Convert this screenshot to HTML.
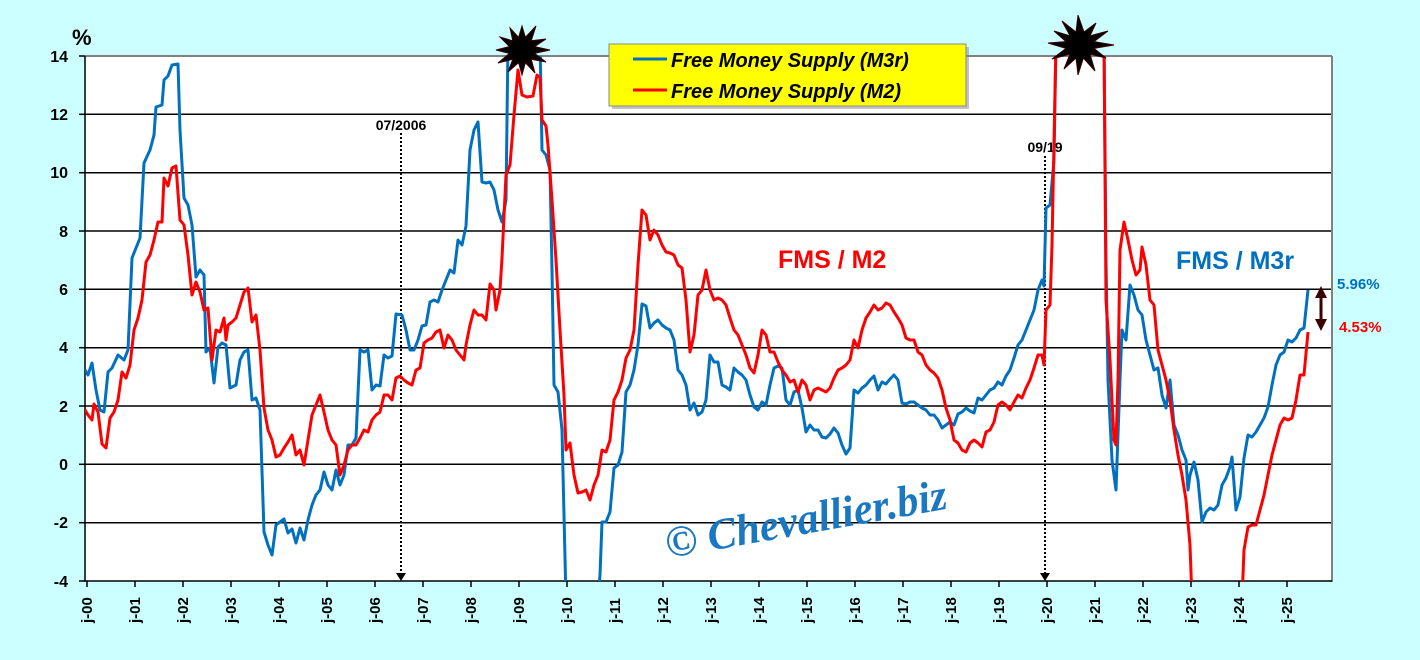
<!DOCTYPE html>
<html><head><meta charset="utf-8"><style>
html,body{margin:0;padding:0;background:#ccffff;}
svg{display:block}
text{font-family:"Liberation Sans",Arial,sans-serif;font-weight:bold}
text.wm{font-family:"Liberation Serif",serif;font-style:italic;font-weight:bold}
</style></head><body>
<svg width="1420" height="660" viewBox="0 0 1420 660" xmlns="http://www.w3.org/2000/svg">
<rect width="1420" height="660" fill="#ccffff"/>
<rect x="85" y="56" width="1247" height="525" fill="#fff"/>
<g stroke="#000" stroke-width="1.5">
<line x1="85" y1="114.3" x2="1332" y2="114.3"/>
<line x1="85" y1="172.7" x2="1332" y2="172.7"/>
<line x1="85" y1="231" x2="1332" y2="231"/>
<line x1="85" y1="289.3" x2="1332" y2="289.3"/>
<line x1="85" y1="347.7" x2="1332" y2="347.7"/>
<line x1="85" y1="406" x2="1332" y2="406"/>
<line x1="85" y1="464.3" x2="1332" y2="464.3"/>
<line x1="85" y1="522.7" x2="1332" y2="522.7"/>
</g>
<line x1="85" y1="56" x2="1332" y2="56" stroke="#808080" stroke-width="2"/>
<line x1="1332" y1="56" x2="1332" y2="582" stroke="#808080" stroke-width="2"/>
<line x1="84" y1="581" x2="1332" y2="581" stroke="#000" stroke-width="1.5"/>
<line x1="85" y1="56" x2="85" y2="581" stroke="#000" stroke-width="1.5"/>
<g stroke="#000" stroke-width="1.5">
<line x1="79" y1="56" x2="85" y2="56"/><line x1="79" y1="114.3" x2="85" y2="114.3"/><line x1="79" y1="172.7" x2="85" y2="172.7"/><line x1="79" y1="231" x2="85" y2="231"/><line x1="79" y1="289.3" x2="85" y2="289.3"/><line x1="79" y1="347.7" x2="85" y2="347.7"/><line x1="79" y1="406" x2="85" y2="406"/><line x1="79" y1="464.3" x2="85" y2="464.3"/><line x1="79" y1="522.7" x2="85" y2="522.7"/><line x1="79" y1="581" x2="85" y2="581"/>
</g>
<g font-size="16" text-anchor="end" fill="#000">
<text x="68" y="62">14</text><text x="68" y="120">12</text><text x="68" y="178">10</text><text x="68" y="237">8</text><text x="68" y="295">6</text><text x="68" y="353">4</text><text x="68" y="412">2</text><text x="68" y="470">0</text><text x="68" y="528">-2</text><text x="68" y="587">-4</text>
</g>
<text x="72" y="45" font-size="22">%</text>
<g font-size="15" fill="#000">
<g stroke="#000" stroke-width="1.5">
<line x1="87" y1="581" x2="87" y2="587"/><line x1="135" y1="581" x2="135" y2="587"/><line x1="183" y1="581" x2="183" y2="587"/><line x1="231" y1="581" x2="231" y2="587"/><line x1="279" y1="581" x2="279" y2="587"/><line x1="327" y1="581" x2="327" y2="587"/><line x1="375" y1="581" x2="375" y2="587"/><line x1="423" y1="581" x2="423" y2="587"/><line x1="471" y1="581" x2="471" y2="587"/><line x1="519" y1="581" x2="519" y2="587"/><line x1="567" y1="581" x2="567" y2="587"/><line x1="615" y1="581" x2="615" y2="587"/><line x1="663" y1="581" x2="663" y2="587"/><line x1="711" y1="581" x2="711" y2="587"/><line x1="759" y1="581" x2="759" y2="587"/><line x1="807" y1="581" x2="807" y2="587"/><line x1="855" y1="581" x2="855" y2="587"/><line x1="903" y1="581" x2="903" y2="587"/><line x1="951" y1="581" x2="951" y2="587"/><line x1="999" y1="581" x2="999" y2="587"/><line x1="1047" y1="581" x2="1047" y2="587"/><line x1="1095" y1="581" x2="1095" y2="587"/><line x1="1143" y1="581" x2="1143" y2="587"/><line x1="1191" y1="581" x2="1191" y2="587"/><line x1="1239" y1="581" x2="1239" y2="587"/><line x1="1287" y1="581" x2="1287" y2="587"/>
</g>
<text transform="translate(92,623) rotate(-90)">j-00</text>
<text transform="translate(140,623) rotate(-90)">j-01</text>
<text transform="translate(188,623) rotate(-90)">j-02</text>
<text transform="translate(236,623) rotate(-90)">j-03</text>
<text transform="translate(284,623) rotate(-90)">j-04</text>
<text transform="translate(332,623) rotate(-90)">j-05</text>
<text transform="translate(380,623) rotate(-90)">j-06</text>
<text transform="translate(428,623) rotate(-90)">j-07</text>
<text transform="translate(476,623) rotate(-90)">j-08</text>
<text transform="translate(524,623) rotate(-90)">j-09</text>
<text transform="translate(572,623) rotate(-90)">j-10</text>
<text transform="translate(620,623) rotate(-90)">j-11</text>
<text transform="translate(668,623) rotate(-90)">j-12</text>
<text transform="translate(716,623) rotate(-90)">j-13</text>
<text transform="translate(764,623) rotate(-90)">j-14</text>
<text transform="translate(812,623) rotate(-90)">j-15</text>
<text transform="translate(860,623) rotate(-90)">j-16</text>
<text transform="translate(908,623) rotate(-90)">j-17</text>
<text transform="translate(956,623) rotate(-90)">j-18</text>
<text transform="translate(1004,623) rotate(-90)">j-19</text>
<text transform="translate(1052,623) rotate(-90)">j-20</text>
<text transform="translate(1100,623) rotate(-90)">j-21</text>
<text transform="translate(1148,623) rotate(-90)">j-22</text>
<text transform="translate(1196,623) rotate(-90)">j-23</text>
<text transform="translate(1244,623) rotate(-90)">j-24</text>
<text transform="translate(1292,623) rotate(-90)">j-25</text>
</g>
<!-- watermark -->
<text class="wm" x="668" y="558" font-size="44" fill="#1a78c2" transform="rotate(-10 668 558)" textLength="285" lengthAdjust="spacingAndGlyphs">© Chevallier.biz</text>
<!-- dotted markers -->
<line x1="401" y1="133" x2="401" y2="574" stroke="#000" stroke-width="2" stroke-dasharray="2,2"/>
<polygon points="396,573 406,573 401,581" fill="#000"/>
<text x="401" y="130" font-size="14" text-anchor="middle">07/2006</text>
<line x1="1045" y1="156" x2="1045" y2="574" stroke="#000" stroke-width="2" stroke-dasharray="2,2"/>
<polygon points="1040,573 1050,573 1045,581" fill="#000"/>
<text x="1045" y="152" font-size="14" text-anchor="middle">09/19</text>
<defs><clipPath id="c"><rect x="85" y="56" width="1247" height="525"/></clipPath></defs>
<g clip-path="url(#c)" fill="none" stroke-width="3" stroke-linejoin="round">
<polyline stroke="#0070c0" points="85,370 88,375 92,363 96,390 100,410 104,412 108,372 112,368 118,355 124,360 128,350 132,258 140,238 144,163 150,150 154,135 156,107 162,105 164,80 168,76 172,65 178,64 180,130 184,198 188,205 192,225 196,277 200,270 204,275 206,352 210,348 214,383 218,347 222,343 226,345 230,388 236,385 240,360 244,352 248,350 252,400 256,398 260,410 264,532 268,545 272,555 276,525 280,522 284,519 288,533 292,529 296,543 300,528 304,540 308,520 312,505 316,495 320,490 324,472 328,485 332,490 336,470 340,485 344,475 348,445 352,445 356,438 360,350 364,352 368,350 372,390 376,385 380,386 384,355 388,358 392,356 396,314 402,315 406,330 410,350 414,350 418,340 422,326 426,325 430,302 434,300 438,302 442,290 446,280 450,270 454,273 458,240 462,245 466,226 470,150 474,130 478,122 482,182 486,183 490,182 494,190 498,210 502,222 506,200 508,40 540,40 542,150 546,155 550,170 552,270 554,385 558,392 562,430 566,600 598,600 600,575 602,522 606,522 610,512 614,468 618,465 622,452 626,392 630,385 634,370 638,345 642,304 646,306 650,328 654,323 658,320 662,325 666,328 670,330 674,340 678,370 682,375 686,385 690,410 694,403 698,415 702,412 706,400 710,355 714,362 718,362 722,385 726,387 730,390 734,368 738,372 742,375 746,380 750,395 754,407 758,410 762,402 766,405 770,385 774,368 778,366 782,368 786,400 790,405 794,392 798,390 802,408 806,432 810,425 814,430 818,430 822,437 826,438 830,434 834,428 838,433 842,445 846,454 850,448 854,390 858,393 862,388 866,385 870,380 874,376 878,390 882,382 886,384 890,379 894,375 898,380 902,403 906,404 910,402 914,402 918,405 922,408 926,410 930,415 934,415 938,420 942,428 946,425 950,422 954,425 958,414 962,412 966,408 970,411 974,413 978,398 982,400 986,395 990,390 994,388 998,382 1002,385 1006,376 1010,370 1014,358 1018,345 1022,340 1026,330 1030,320 1034,310 1038,290 1042,280 1044,286 1046,208 1050,205 1054,160 1056,40 1104,40 1106,260 1108,380 1112,460 1116,490 1120,380 1122,330 1126,340 1130,285 1134,295 1138,310 1142,315 1146,340 1150,355 1154,370 1158,368 1162,395 1166,408 1170,380 1174,425 1178,435 1182,450 1186,460 1188,490 1190,475 1194,462 1198,480 1202,522 1206,512 1210,508 1214,510 1218,505 1222,485 1226,478 1230,467 1232,457 1236,510 1240,497 1244,458 1248,435 1252,437 1256,432 1260,425 1264,418 1268,407 1272,385 1276,365 1280,355 1284,352 1288,340 1292,342 1296,338 1300,330 1304,328 1308,290"/>
<polyline stroke="#ff0000" points="85,410 88,415 92,420 94,404 98,412 102,444 106,448 110,418 114,412 118,400 122,372 126,378 130,365 134,330 138,318 142,300 146,262 150,255 154,240 158,222 162,222 164,178 168,186 172,168 176,166 180,220 184,225 188,255 192,295 196,282 200,292 204,310 208,308 212,360 216,330 220,332 224,318 226,340 228,325 232,322 236,318 240,305 244,292 248,288 252,322 256,315 260,350 264,408 268,430 272,440 276,457 280,455 284,448 288,442 292,435 296,455 300,450 304,465 308,440 312,415 316,405 320,395 324,412 328,430 332,440 336,445 340,475 344,465 348,450 352,445 356,445 360,438 364,430 368,432 372,420 376,415 380,412 384,395 388,395 392,400 396,378 400,376 404,380 408,383 412,385 416,370 420,368 424,343 428,340 432,338 436,332 440,330 444,348 448,335 452,340 456,350 460,355 464,360 466,345 470,325 474,310 478,315 482,315 486,320 490,284 494,290 496,310 500,290 502,258 506,175 510,165 514,115 518,70 522,95 527,97 533,96 537,75 540,78 542,120 546,126 548,145 552,200 556,260 560,330 564,395 566,450 570,443 574,475 578,493 582,492 586,490 590,500 594,485 598,475 602,450 606,452 610,440 614,400 618,392 622,380 626,358 630,350 634,330 638,265 642,210 646,215 650,240 654,230 658,235 662,245 666,252 670,253 674,255 678,265 682,268 686,300 690,352 694,335 698,295 702,290 706,270 710,290 714,300 718,298 722,300 726,305 730,318 734,330 738,335 742,345 746,355 750,368 754,373 758,355 762,330 766,335 770,352 774,352 778,362 782,370 786,375 790,382 794,380 798,392 802,380 806,385 810,400 814,390 818,388 822,390 826,392 830,388 834,378 838,370 842,368 846,365 850,360 854,340 858,348 862,330 866,318 870,312 874,305 878,310 882,308 886,303 890,305 894,312 898,318 902,325 906,338 910,340 914,340 918,352 922,355 926,365 930,370 934,373 938,378 942,390 946,408 950,420 954,440 958,443 962,450 966,452 970,443 974,440 978,443 982,447 986,432 990,430 994,422 998,405 1002,402 1006,405 1010,410 1014,402 1018,395 1022,398 1026,388 1030,380 1034,368 1038,355 1042,355 1044,365 1046,310 1050,305 1052,245 1056,40 1104,40 1106,300 1110,360 1114,440 1116,445 1118,380 1120,250 1124,222 1128,240 1132,260 1136,275 1140,270 1142,247 1146,265 1150,300 1154,305 1158,350 1162,365 1166,380 1170,400 1174,430 1178,455 1182,475 1186,500 1190,545 1192,600 1242,600 1244,550 1248,527 1252,525 1256,525 1260,510 1264,495 1268,475 1272,455 1276,440 1280,425 1284,418 1288,420 1292,418 1296,400 1300,375 1304,375 1308,332"/>
</g>
<!-- bursts -->
<polygon transform="translate(522,50)" fill="#000" stroke="#3a0000" stroke-width="1" points="28,0 12.6,3.4 24,12 9.2,9.2 13,23 3.4,12.6 0,25 -3.4,12.6 -14,22 -9.2,9.2 -24,13 -12.6,3.4 -26,0 -12.6,-3.4 -22,-13 -9.2,-9.2 -12,-22 -3.4,-12.6 0,-24 3.4,-12.6 14,-24 9.2,-9.2 24,-11 12.6,-3.4"/>
<polygon transform="translate(1080,45)" fill="#000" stroke="#3a0000" stroke-width="1" points="34,0 14,3.4 26,13 10,9.2 15,26 3.4,13 -2,30 -4,13 -16,24 -10,9.2 -28,14 -14,3.4 -32,-2 -14,-3.4 -26,-14 -10,-9.2 -18,-24 -4,-13 -2,-30 4,-13 16,-22 10,-9.2 28,-14 14,-3.4"/>
<!-- legend -->
<rect x="612" y="47" width="357" height="62" fill="#888" opacity="0.5"/>
<rect x="609" y="44" width="357" height="62" fill="#ffff00" stroke="#888" stroke-width="1"/>
<line x1="633" y1="59" x2="667" y2="59" stroke="#0070c0" stroke-width="3"/>
<line x1="633" y1="90" x2="667" y2="90" stroke="#ff0000" stroke-width="3"/>
<text x="671" y="67" font-size="20" font-style="italic">Free Money Supply (M3r)</text>
<text x="671" y="98" font-size="20" font-style="italic">Free Money Supply (M2)</text>
<!-- annotations -->
<text x="778" y="268" font-size="25" fill="#ff0000">FMS / M2</text>
<text x="1176" y="269" font-size="25" fill="#0070c0">FMS / M3r</text>
<text x="1337" y="289" font-size="15" fill="#0070c0">5.96%</text>
<text x="1339" y="332" font-size="15" fill="#ff0000">4.53%</text>
<line x1="1321" y1="295" x2="1321" y2="322" stroke="#3a0000" stroke-width="3"/>
<polygon points="1315,298 1327,298 1321,286" fill="#3a0000"/>
<polygon points="1315,319 1327,319 1321,331" fill="#3a0000"/>
</svg>
</body></html>
